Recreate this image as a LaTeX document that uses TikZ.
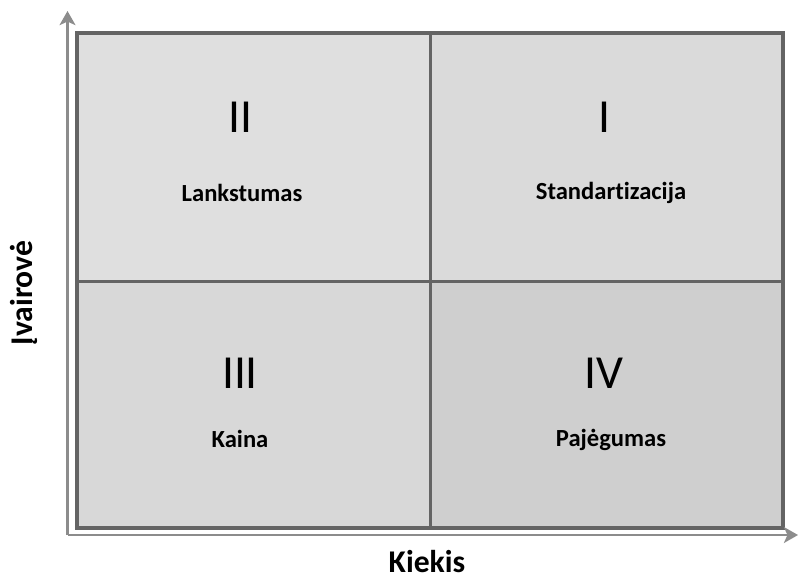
\documentclass[tikz,border=0pt]{standalone}
\usepackage{fontspec}
\setmainfont[Ligatures={NoCommon}]{Carlito}
\usetikzlibrary{arrows.meta,positioning}
\definecolor{axisgray}{RGB}{140,140,140}
\definecolor{framegray}{RGB}{100,100,100}
\definecolor{quadA}{RGB}{223,223,223}
\definecolor{quadB}{RGB}{218,218,218}
\definecolor{quadC}{RGB}{216,216,216}
\definecolor{quadD}{RGB}{207,207,207}

\begin{document}
\begin{tikzpicture}[
        x=0.02cm, y=-0.02cm,
        axis/.style={draw=axisgray, line width=1.6pt, -{Stealth[length=8pt, width=9pt, inset=2pt]}},
        frame/.style={draw=framegray, line width=2.3pt},
        divider/.style={draw=framegray, line width=1.7pt},
        numeral/.style={font=\fontsize{27}{30}\selectfont, anchor=center},
        label/.style={font=\fontsize{14}{16}\selectfont\bfseries, anchor=center},
        axislabel/.style={font=\fontsize{18}{20}\selectfont\bfseries, inner sep=1pt}
    ]
        \useasboundingbox (0,0) rectangle (800,579);

        % Quadrant fills
        \fill[quadA] (77,33) rectangle (430,281);
        \fill[quadB] (430,33) rectangle (783,281);
        \fill[quadC] (77,281) rectangle (430,528);
        \fill[quadD] (430,281) rectangle (783,528);

        % Dividers and frame
        \draw[divider] (430,33) -- (430,528);
        \draw[divider] (77,281) -- (783,281);
        \draw[frame] (77,33) rectangle (783,528);

        % Axes
        \coordinate (origin) at (67.5,535);
        \coordinate (ytip) at (67.5,11);
        \coordinate (xtip) at (798,535);
        \draw[axis] (origin) -- (ytip);
        \draw[axis] (origin) -- (xtip);

        % Quadrant texts
        \node[numeral] (n2) at (240,117) {II};
        \node[label] (l2) at (242,193) {Lankstumas};
        \node[numeral] (n1) at (604,117) {I};
        \node[label] (l1) at (611,193) {Standart\kern0pt izacija};
        \node[numeral] (n3) at (240,373) {III};
        \node[label] (l3) at (240,439) {Kaina};
        \node[numeral] (n4) at (604,373) {IV};
        \node[label] (l4) at (611,440) {Pajėgumas};

        % Axis labels
        \node[axislabel] (xlab) at (427,562) {Kiekis};
        \node[axislabel, rotate=90] (ylab) at (24,293) {Įvairovė};

    \end{tikzpicture}
\end{document}
